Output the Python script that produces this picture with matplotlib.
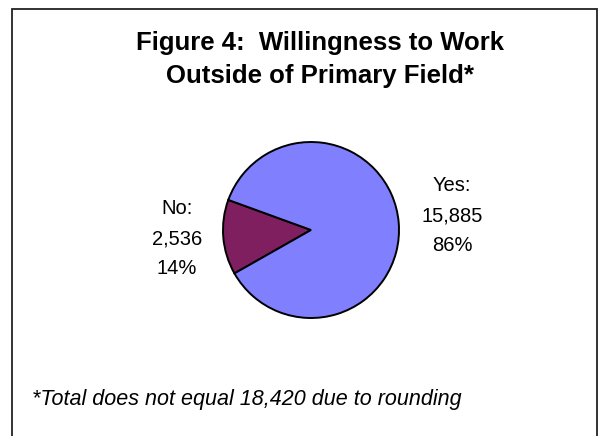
import matplotlib.pyplot as plt
from matplotlib.patches import Rectangle
import numpy as np

labels = ["No", "Yes"]
counts = [2536, 15885]
percents = [14, 86]
colors = ["#7f1f5f", "#8080ff"]
title_lines = ["Figure 4:  Willingness to Work", "Outside of Primary Field*"]
note = "*Total does not equal 18,420 due to rounding"

W, H = 603, 436
fig = plt.figure(figsize=(W / 100, H / 100), dpi=100)
plt.rcParams['font.family'] = ['Liberation Sans', 'DejaVu Sans']

# outer frame
fig.patches.append(Rectangle((12 / W, -0.05), 585 / W, 1 - 9 / H + 0.05,
                             transform=fig.transFigure, fill=False,
                             edgecolor="#222222", linewidth=1.3))

# pie: centre (311, 230) px, radius 88 px
cx, cy, r = 311, 230, 88
half = 100
ax = fig.add_axes([(cx - half) / W, 1 - (cy + half) / H, 2 * half / W, 2 * half / H])
wedges, _ = ax.pie(counts, colors=colors, startangle=160, counterclock=True,
                   wedgeprops=dict(edgecolor="black", linewidth=1.4))
lim = half / r
ax.set_xlim(-lim, lim)
ax.set_ylim(-lim, lim)
ax.set_aspect("equal")
ax.axis("off")

dists = [1.53, 1.61]
for w, lab, n, p, d in zip(wedges, labels, counts, percents, dists):
    ang = np.deg2rad((w.theta1 + w.theta2) / 2)
    ax.text(d * np.cos(ang), d * np.sin(ang) + 0.03, f"{lab}:\n{n:,}\n{p}%",
            ha="center", va="center", fontsize=14.5, linespacing=1.72)

for line, base in zip(title_lines, [50, 83]):
    fig.text(320 / W, 1 - base / H, line, ha="center", va="baseline",
             fontsize=18.5, fontweight="bold")
fig.text(32 / W, 1 - 405 / H, note, ha="left", va="baseline", fontsize=15.5,
         style="italic")

fig.savefig("out.png", dpi=100)
